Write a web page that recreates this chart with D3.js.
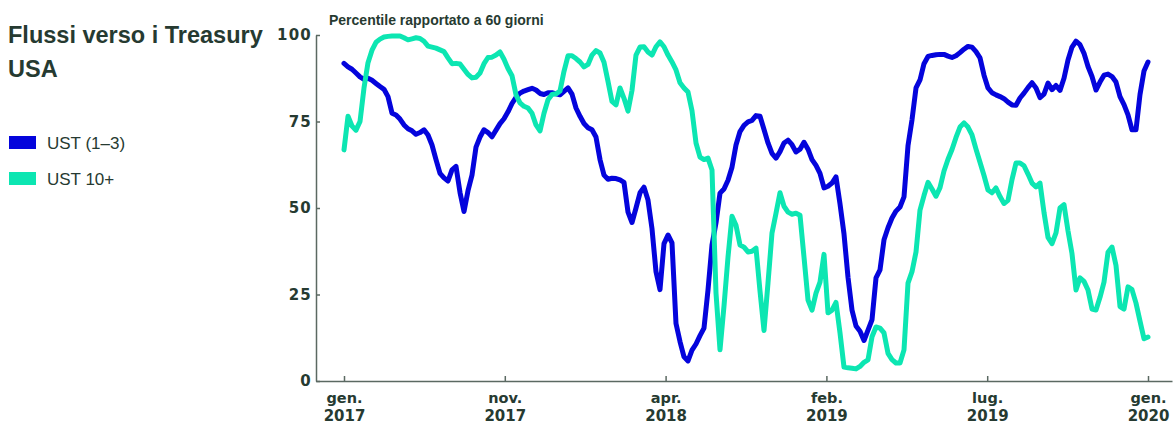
<!DOCTYPE html>
<html lang="it">
<head>
<meta charset="utf-8">
<script src="https://cdn.jsdelivr.net/npm/d3@7/dist/d3.min.js"></script>
<style>
  html, body { margin: 0; padding: 0; background: #ffffff; }
  svg { display: block; }
  .title { font-family: "Liberation Sans", Arial, sans-serif; font-weight: 700; font-size: 23.5px; fill: #263a31; }
  .subtitle { font-family: "Liberation Sans", Arial, sans-serif; font-weight: 700; font-size: 14px; fill: #263a31; }
  .legend { font-family: "Liberation Sans", Arial, sans-serif; font-weight: 400; font-size: 17px; fill: #263a31; }
  .axis path, .axis line { stroke: #5b6962; stroke-width: 1.5px; }
  .axis text { font-family: "DejaVu Sans", sans-serif; font-weight: 700; fill: #263a31; }
</style>
</head>
<body>
<svg id="chart" width="1175" height="425"></svg>
<script>
// Percentile of 60-day flows, sampled at regular intervals, Jan 2017 – Jan 2020
const ust13 = [
  91.8, 90.8, 90.1, 89.0, 87.9, 87.2, 87.5, 86.9, 86.0, 85.1,
  84.3, 82.2, 77.4, 76.9, 75.7, 74.0, 72.9, 72.3, 71.3, 71.8,
  72.6, 71.1, 68.2, 64.0, 60.0, 58.7, 57.8, 61.0, 62.0, 54.5,
  49.0, 55.0, 59.5, 67.6, 70.5, 72.6, 71.8, 70.6, 72.5, 74.4,
  75.8, 77.8, 80.2, 82.0, 83.2, 83.8, 84.2, 84.6, 84.1, 83.1,
  82.8, 83.3, 83.3, 83.0, 82.7, 83.7, 84.7, 82.9, 78.9, 76.5,
  74.4, 73.2, 72.6, 70.5, 64.0, 59.5, 58.3, 58.6, 58.5, 58.1,
  57.4, 48.8, 45.8, 50.0, 54.4, 56.0, 52.3, 44.0, 31.6, 26.4,
  39.7, 42.2, 39.9, 16.6, 11.4, 7.0, 5.8, 8.9, 10.7, 13.1,
  15.3, 26.3, 39.3, 45.7, 54.3, 55.5, 58.0, 61.8, 68.2, 72.1,
  73.9, 74.9, 75.3, 76.7, 76.5, 72.7, 68.8, 65.8, 64.4, 66.3,
  68.8, 69.6, 68.3, 66.2, 67.0, 69.0, 67.0, 64.0, 62.3, 60.0,
  55.8, 56.3, 57.2, 59.0, 51.2, 42.5, 30.0, 20.5, 15.9, 14.4,
  11.7, 14.7, 17.7, 29.8, 32.1, 40.8, 44.3, 47.1, 49.1, 50.3,
  53.2, 68.0, 75.5, 84.7, 87.0, 91.7, 93.8, 94.1, 94.3, 94.4,
  94.4, 93.9, 93.5, 94.0, 94.9, 95.9, 96.7, 96.5, 95.2, 93.4,
  88.4, 84.7, 83.3, 82.7, 82.2, 81.6, 80.6, 79.8, 79.7, 81.8,
  83.2, 84.8, 86.2, 84.7, 81.9, 82.9, 86.1, 84.2, 85.4, 84.0,
  87.5, 92.8, 96.5, 98.2, 97.2, 94.7, 90.9, 88.0, 84.1, 86.4,
  88.4, 88.7, 88.0, 86.4, 82.2, 79.9, 76.9, 72.6, 72.6, 82.8,
  89.6, 92.2
];

const ust10 = [
  66.8, 76.5, 73.7, 72.5, 75.0, 84.7, 92.0, 95.6, 97.9, 98.8,
  99.4, 99.6, 99.7, 99.7, 99.7, 99.2, 98.6, 98.9, 99.2, 99.0,
  98.2, 96.8, 96.5, 96.2, 95.7, 95.2, 93.4, 91.7, 91.8, 91.6,
  90.1, 88.6, 87.6, 87.8, 89.0, 91.7, 93.5, 93.6, 94.2, 95.1,
  93.0, 90.3, 88.2, 82.7, 80.4, 79.4, 78.9, 77.4, 74.0, 72.3,
  77.4, 81.3, 82.8, 83.0, 83.8, 89.5, 94.0, 94.0, 93.2, 92.2,
  90.8, 91.5, 94.2, 95.5, 94.8, 92.1, 86.6, 80.8, 79.8, 84.7,
  81.7, 78.0, 84.0, 94.2, 96.5, 96.6, 95.1, 94.2, 96.6, 98.0,
  96.6, 94.2, 92.2, 89.9, 86.2, 84.7, 83.5, 78.1, 68.8, 64.7,
  64.0, 64.4, 61.0, 25.4, 9.0, 21.7, 35.8, 47.6, 45.0, 39.3,
  38.7, 37.3, 37.5, 38.4, 26.0, 14.6, 28.3, 42.8, 48.5, 54.4,
  50.5, 48.8, 48.2, 48.5, 47.9, 35.8, 23.4, 20.5, 25.4, 28.6,
  36.6, 19.7, 20.5, 22.7, 13.9, 4.0, 3.8, 3.7, 3.5, 4.2,
  5.4, 6.1, 12.8, 15.6, 15.3, 13.9, 8.0, 6.2, 5.2, 5.2,
  9.0, 28.3, 31.6, 37.3, 49.4, 53.6, 57.4, 55.5, 53.4, 55.9,
  60.7, 64.1, 66.9, 70.4, 73.4, 74.6, 73.4, 71.1, 67.0, 63.2,
  59.4, 55.2, 54.4, 55.8, 53.3, 51.3, 52.2, 58.2, 63.0, 63.0,
  62.2, 59.8, 57.2, 56.1, 57.2, 48.7, 41.5, 39.7, 42.8, 50.0,
  51.0, 43.4, 36.8, 26.3, 29.8, 28.8, 26.3, 20.8, 20.5, 24.2,
  28.6, 37.2, 38.7, 33.4, 21.5, 20.8, 27.2, 26.4, 22.5, 17.3,
  12.2, 12.7
];

const monthLabels = ["gen.", "nov.", "apr.", "feb.", "lug.", "gen."];
const yearLabels = ["2017", "2017", "2018", "2019", "2019", "2020"];
const yTicks = [0, 25, 50, 75, 100];

const seriesNames = ["UST (1–3)", "UST 10+"];
const seriesColors = ["#0404dc", "#0ce6b2"];

const svg = d3.select("#chart");
const n = ust13.length;

// index scale: the axis runs a little past the first and last sample
const x = d3.scaleLinear().domain([-7, n + 5]).range([316, 1172]);
const y = d3.scaleLinear().domain([0, 100]).range([381, 35]);

// title block
const title = svg.append("text").attr("class", "title").attr("x", 8).attr("y", 43);
title.append("tspan").attr("x", 8).text("Flussi verso i Treasury");
title.append("tspan").attr("x", 8).attr("dy", 34).text("USA");

svg.append("text").attr("class", "subtitle").attr("x", 329).attr("y", 25)
  .text("Percentile rapportato a 60 giorni");

// legend
const legend = svg.append("g").attr("transform", "translate(9,136)");
seriesNames.forEach((name, i) => {
  const row = legend.append("g").attr("transform", `translate(0,${i * 36})`);
  row.append("rect").attr("width", 27).attr("height", 13).attr("fill", seriesColors[i]);
  row.append("text").attr("class", "legend").attr("x", 38).attr("y", 13).text(name);
});

// y axis
const yAxis = svg.append("g").attr("class", "axis")
  .attr("transform", `translate(${x(-7)},0)`)
  .call(d3.axisLeft(y).tickValues(yTicks).tickSize(-4).tickSizeOuter(0).tickPadding(4));
yAxis.selectAll("text").style("font-size", "15px").style("letter-spacing", "1.2px");

// x axis with two-line labels
const tickIdx = monthLabels.map((_, i) => i * (n - 1) / (monthLabels.length - 1));
const xAxis = svg.append("g").attr("class", "axis")
  .attr("transform", `translate(0,${y(0)})`)
  .call(d3.axisBottom(x).tickValues(tickIdx).tickSize(-5).tickSizeOuter(0).tickFormat(""));
xAxis.selectAll(".tick").each(function (d, i) {
  const t = d3.select(this).append("text")
    .attr("fill", "#263a31").attr("text-anchor", "middle")
    .style("font-size", "14.5px");
  t.append("tspan").attr("x", 0).attr("y", 22).text(monthLabels[i]);
  t.append("tspan").attr("x", 0).attr("y", 40).style("font-size", "15px").text(yearLabels[i]);
});

// lines
const line = d3.line().x((d, i) => x(i)).y(d => y(d));
[ust13, ust10].forEach((values, i) => {
  svg.append("path")
    .datum(values)
    .attr("fill", "none")
    .attr("stroke", seriesColors[i])
    .attr("stroke-width", 5)
    .attr("stroke-linejoin", "round")
    .attr("stroke-linecap", "round")
    .attr("d", line);
});
</script>
</body>
</html>
